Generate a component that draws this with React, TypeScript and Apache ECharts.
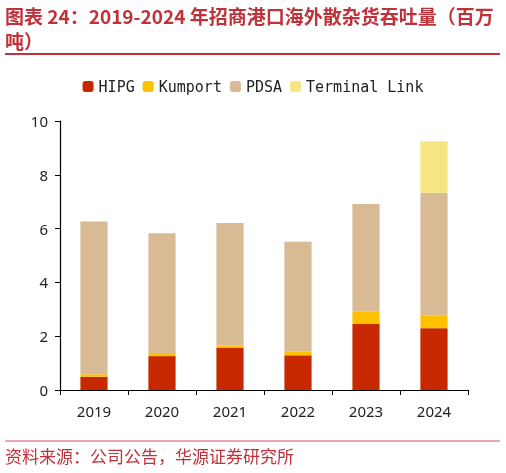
import React, { useEffect, useRef } from "react";
import * as echarts from "echarts";

const years = ["2019", "2020", "2021", "2022", "2023", "2024"];
const hipg = [0.49, 1.26, 1.56, 1.29, 2.45, 2.3];
const kumport = [0.1, 0.08, 0.09, 0.13, 0.46, 0.46];
const pdsa = [5.67, 4.49, 4.56, 4.09, 4.0, 4.57];
const terminalLink = [0, 0, 0, 0, 0, 1.92];

const red = "#C0323A";

const App: React.FC = () => {
  const chartRef = useRef<HTMLDivElement | null>(null);

  useEffect(() => {
    if (!chartRef.current) return;
    const myChart = echarts.init(chartRef.current, undefined, { renderer: "svg" });

    const bar = (name: string, data: number[], color: string) => ({
      name,
      type: "bar",
      stack: "total",
      barWidth: "40%",
      itemStyle: { color },
      data,
    });

    const option = {
      animation: false,
      graphic: [
        {
          type: "text",
          left: 5,
          top: 6,
          style: {
            text: "图表 24：2019-2024 年招商港口海外散杂货吞吐量（百万",
            font: "bold 19px 'Noto Sans CJK SC'",
            fill: red,
          },
        },
        {
          type: "text",
          left: 5,
          top: 31,
          style: {
            text: "吨）",
            font: "bold 19px 'Noto Sans CJK SC'",
            fill: red,
          },
        },
        {
          type: "line",
          shape: { x1: 5, y1: 54, x2: 500, y2: 54 },
          style: { stroke: red, lineWidth: 2 },
        },
        {
          type: "line",
          shape: { x1: 5, y1: 441, x2: 500, y2: 441 },
          style: { stroke: "#D9545A", lineWidth: 1 },
        },
        {
          type: "text",
          left: 5,
          top: 447,
          style: {
            text: "资料来源：公司公告，华源证券研究所",
            font: "17px 'Noto Sans CJK SC'",
            fill: red,
          },
        },
      ],
      legend: {
        top: 74,
        left: "center",
        itemWidth: 11,
        itemHeight: 11,
        itemGap: 8,
        textStyle: {
          fontFamily: "DejaVu Sans Mono",
          fontSize: 15,
          color: "#222",
        },
        data: ["HIPG", "Kumport", "PDSA", "Terminal Link"],
      },
      grid: { left: 60, right: 38, top: 121, bottom: 83 },
      xAxis: {
        type: "category",
        data: years,
        axisLine: { lineStyle: { color: "#000", width: 1.2 } },
        axisTick: { show: true, length: 5, lineStyle: { color: "#000" } },
        axisLabel: {
          color: "#222",
          fontSize: 15,
          fontFamily: "Noto Sans",
          margin: 13,
        },
      },
      yAxis: {
        type: "value",
        min: 0,
        max: 10,
        interval: 2,
        splitLine: { show: false },
        axisLine: { show: true, lineStyle: { color: "#000", width: 1.2 } },
        axisTick: { show: true, length: 5, lineStyle: { color: "#000" } },
        axisLabel: {
          color: "#222",
          fontSize: 15,
          fontFamily: "Noto Sans",
          margin: 12,
        },
      },
      series: [
        bar("HIPG", hipg, "#C82800"),
        bar("Kumport", kumport, "#FFC000"),
        bar("PDSA", pdsa, "#D8BB94"),
        bar("Terminal Link", terminalLink, "#F5E683"),
      ],
    };

    myChart.setOption(option);

    return () => {
      myChart.dispose();
    };
  }, []);

  return (
    <div
      ref={chartRef}
      style={{ position: "fixed", left: 0, top: 0, width: "506px", height: "473px" }}
    />
  );
};

export default App;
